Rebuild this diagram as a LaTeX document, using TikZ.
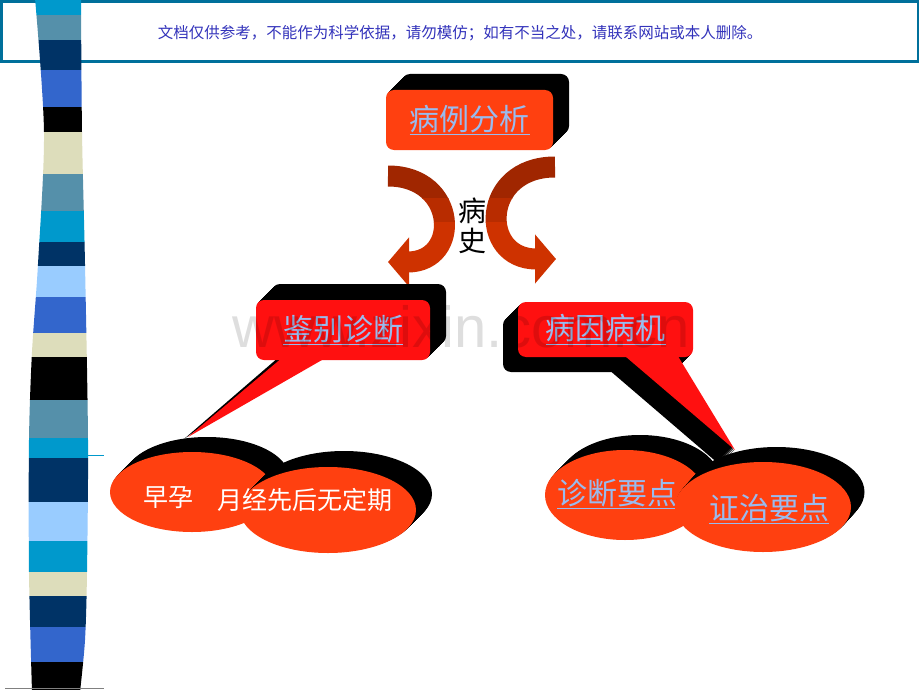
\documentclass[tikz,border=0pt]{standalone}
\usepackage{fontspec}
\newfontfamily\cjk{Noto Sans CJK SC}
\newfontfamily\markfont{Liberation Sans}
\usepackage{tikz}
\usetikzlibrary{arrows.meta,positioning,calc,shapes.geometric}
\definecolor{caseorange}{RGB}{255,64,16}
\definecolor{calloutred}{RGB}{255,16,16}
\definecolor{linkblue}{RGB}{153,187,238}
\definecolor{arrowdk}{RGB}{160,38,0}
\definecolor{arrowmd}{RGB}{184,44,0}
\definecolor{arrowlt}{RGB}{206,50,0}
\definecolor{notice}{RGB}{51,51,187}
\definecolor{bannerline}{RGB}{0,112,155}
\definecolor{scyan}{RGB}{0,153,204}
\definecolor{ssteel}{RGB}{85,144,170}
\definecolor{snavy}{RGB}{0,51,102}
\definecolor{sroyal}{RGB}{51,102,204}
\definecolor{sbeige}{RGB}{221,221,187}
\definecolor{slight}{RGB}{153,204,255}
\tikzstyle{casebox}=[rectangle, rounded corners=8pt, fill=caseorange, text=linkblue, inner sep=0pt, minimum width=167pt, minimum height=60pt, font=\cjk\fontsize{30}{36}\selectfont]
\tikzstyle{callbox}=[casebox, fill=calloutred]
\tikzstyle{ovalnode}=[ellipse, fill=caseorange, inner sep=0pt]
\tikzstyle{ovaltext}=[font=\cjk\fontsize{25}{28}\selectfont, text=white, inner sep=0pt]
\tikzstyle{linktext}=[font=\cjk\fontsize{30}{36}\selectfont, text=linkblue, inner sep=0pt]
\tikzstyle{histtext}=[font=\cjk\fontsize{28}{30}\selectfont, align=center, inner sep=0pt]
\tikzstyle{bendarrow}=[line width=21pt, -{Triangle[width=48pt,length=21pt]}]
\newcommand{\link}[1]{\underline{#1}}

\begin{document}
\begin{tikzpicture}[x=1pt,y=-1pt]
    \fill[white] (0,0) rectangle (920,690);
    \useasboundingbox (0,0) rectangle (920,690);
    % banner
    \draw[bannerline, line width=2.5pt] (1.5,1.5) rectangle (918,61.5);
    \node [font=\cjk\fontsize{15.5}{18}\selectfont, text=notice] (note) at (460,33) {文档仅供参考，不能作为科学依据，请勿模仿；如有不当之处，请联系网站或本人删除。};
    % striped bar on the left
    \begin{scope}
        \clip plot[smooth] coordinates {(35,-2) (44,132) (38,264) (32,352) (29,440) (29,572) (32,692)}
            -- plot[smooth] coordinates {(80,692) (85,640) (87,572) (88,440) (85,264) (82,132) (81,-2)} -- cycle;
        \foreach \ya/\yb/\col in {-2/15/scyan, 15/40/ssteel, 40/70/snavy, 70/107/sroyal, 107/132/black,
            132/174/sbeige, 174/211/ssteel, 211/242/scyan, 242/266/snavy, 266/297/slight, 297/333/sroyal,
            333/357/sbeige, 357/400/black, 400/438/ssteel, 438/458/scyan, 458/502/snavy, 502/541/slight,
            541/572/scyan, 572/596/sbeige, 596/627/snavy, 627/662/sroyal, 662/692/black}
            \fill[\col] (20,\ya) rectangle (100,\yb);
    \end{scope}
    \draw[scyan, line width=1pt] (88,455) -- (104,455);
    \draw[gray, line width=0.8pt] (5,688) -- (104,688);

    % top box
    \foreach \k in {1,...,16}
        \fill[black, rounded corners=8pt] (386+\k,90-\k) rectangle (553+\k,150-\k);
    \node [casebox] (case) at (469.5,120) {\link{病例分析}};
    \node [histtext] (hist) [below of=case, node distance=106pt, xshift=3pt] {病\\史};

    % curved arrows
    \coordinate (la0) at (388,176);
    \coordinate (la1) at (388,262);
    \coordinate (ra0) at (555,167);
    \coordinate (ra1) at (556,259);
    \foreach \ya/\yb/\col in {150/198/arrowdk, 198/222/arrowmd, 222/300/arrowlt} {
        \begin{scope}
            \clip (370,\ya) rectangle (580,\yb);
            \draw[bendarrow, \col] (la0) .. controls (458,176) and (461,262) .. (la1);
            \draw[bendarrow, \col] (ra0) .. controls (481,167) and (479,259) .. (ra1);
        \end{scope}
    }

    % left callout
    \coordinate (tipL) at (188,437);
    \foreach \k in {1,...,16}
        \fill[black, rounded corners=8pt] (256+\k,300-\k) rectangle (430+\k,360-\k);
    \fill[black] (279,357) -- (300,357) -- (184,439) -- cycle;
    \node [callbox, minimum width=174pt] (diff) at (343,330) {\link{鉴别诊断}};
    \fill[calloutred] ($(diff.south west)+(27,-3)$) -- ($(diff.south west)+(71,-3)$) -- (tipL) -- cycle;

    % right callout
    \coordinate (tipR) at (735,450);
    \foreach \k in {1,...,15} {
        \fill[black, rounded corners=8pt] (518-\k,302+\k) rectangle (693-\k,357+\k);
        \fill[black] (623-\k,354+\k) -- (677-\k,354+\k) -- (735-\k,450+\k) -- cycle;
    }
    \node [callbox, minimum width=175pt, minimum height=55pt] (cause) at (605.5,329.5) {\link{病因病机}};
    \fill[calloutred] ($(cause.south west)+(105,-3)$) -- ($(cause.south west)+(159,-3)$) -- (tipR) -- cycle;

    % watermark
    \node [font=\markfont\fontsize{58}{60}\selectfont, text=black, text opacity=0.13, anchor=base, inner sep=0pt] (mark) at (461,347) {www.zixin.com.cn};

    % left ellipses
    \foreach \k in {1,...,15}
        \fill[black] (192+\k,492-\k) ellipse [x radius=82, y radius=40];
    \node [ovalnode, minimum width=164pt, minimum height=80pt] (early) at (192,492) {};
    \foreach \k in {1,...,16}
        \fill[black] (328+\k,510-\k) ellipse [x radius=88, y radius=43];
    \node [ovalnode, minimum width=176pt, minimum height=86pt] (irreg) at (328,510) {};
    \node [ovaltext] (earlytext) at ($(early)+(-24,6)$) {早孕};
    \node [ovaltext] (irregtext) at ($(irreg)+(-23,-10)$) {月经先后无定期};

    % right ellipses
    \foreach \k in {1,...,15}
        \fill[black] (625+\k,495-\k) ellipse [x radius=80, y radius=45];
    \node [ovalnode, minimum width=160pt, minimum height=90pt] (keypt) at (625,495) {};
    \node [linktext] (keypttext) at ($(keypt)+(-8,-1)$) {\link{诊断要点}};
    \foreach \k in {1,...,15}
        \fill[black] (763+0.9*\k,507-\k) ellipse [x radius=88, y radius=45];
    \node [ovalnode, minimum width=176pt, minimum height=90pt] (treat) at (763,507) {};
    \node [linktext] (treattext) at ($(treat)+(6,2)$) {\link{证治要点}};
\end{tikzpicture}
\end{document}
